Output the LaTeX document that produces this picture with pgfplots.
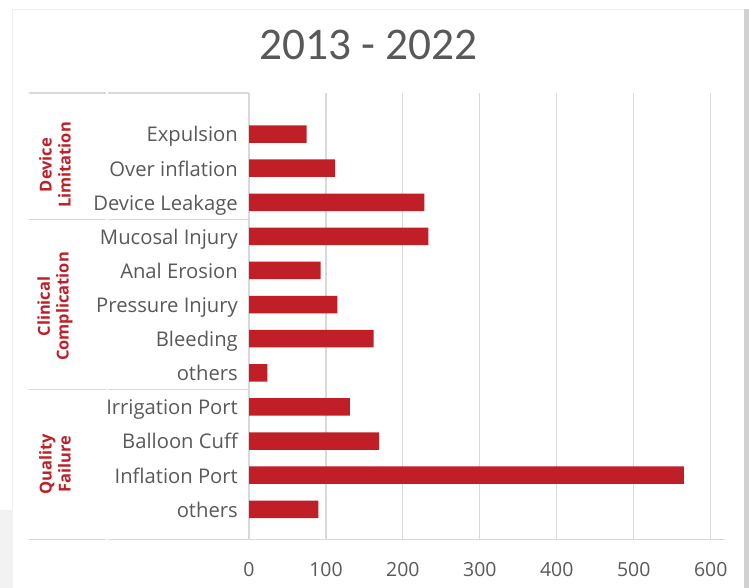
\documentclass[border=0pt]{standalone}
\usepackage{pgfplots}
\pgfplotsset{compat=1.18}
\usepackage{fontspec}
\setmainfont{Open Sans}
\newfontfamily\titlefont{Carlito}
\definecolor{barred}{RGB}{192,31,39}
\definecolor{txt}{RGB}{89,89,89}
\definecolor{gridc}{RGB}{217,217,217}
\pgfplotstableread{
y val
0 90
1 565
2 169
3 131
4 24
5 162
6 115
7 93
8 233
9 228
10 112
11 75
}\datatable
\begin{document}
\begin{tikzpicture}
\path[use as bounding box] (0,0) rectangle (749bp,-588bp);
\fill[white] (0,0) rectangle (749bp,-588bp);
\fill[black!5] (0,-510bp) rectangle (12bp,-588bp);
\fill[black!18] (744bp,-9bp) rectangle (749bp,-588bp);
\draw[black!6, line width=1bp] (12bp,-588bp) -- (12bp,-9bp) -- (744bp,-9bp);
\begin{axis}[
  at={(249bp,-539.3bp)}, anchor=south west,
  scale only axis, width=476bp, height=446.3bp,
  xmin=0, xmax=618.6, ymin=-0.88, ymax=12.203,
  xbar, bar width=17.5bp,
  axis x line*=bottom, axis y line*=left,
  axis line style={gridc, line width=1.1bp, -},
  xmajorgrids, grid style={gridc, line width=1.1bp},
  major tick length=0pt,
  xtick={0,100,...,600},
  ytick={0,...,11},
  yticklabels={others,Inflation Port,Balloon Cuff,Irrigation Port,others,Bleeding,Pressure Injury,Anal Erosion,Mucosal Injury,Device Leakage,Over inflation,Expulsion},
  /pgf/number format/assume math mode=true,
  x tick label style={font=\fontsize{19.5}{19.5}\selectfont, text=txt, anchor=base, inner sep=0pt, yshift=-37.5bp},
  y tick label style={font=\fontsize{20.3}{20.3}\selectfont, text=txt, anchor=base east, inner sep=0pt, xshift=-11bp, yshift=-7.9bp},
  clip=false,
]
\addplot[fill=barred, draw=none] table[x=val, y=y] {\datatable};
\end{axis}
% table lines
\foreach \yy in {93,219.3,389.5,539.3} {
  \draw[gridc, line width=1.1bp] (29bp,-\yy bp) -- (106bp,-\yy bp);
  \draw[gridc, line width=1.1bp] (108bp,-\yy bp) -- (249bp,-\yy bp);
}
\node[anchor=base, text=txt, font=\titlefont\fontsize{45.5}{45.5}\selectfont] at (368.5bp,-59bp) {2013 - 2022};
\node[rotate=90, align=center, text=barred, font=\fontsize{16.5}{19}\selectfont\bfseries] at (55bp,-165bp) {Device\\Limitation};
\node[rotate=90, align=center, text=barred, font=\fontsize{16.5}{19}\selectfont\bfseries] at (55bp,-306.5bp) {Clinical\\Complication};
\node[rotate=90, align=center, text=barred, font=\fontsize{16.5}{19}\selectfont\bfseries] at (55bp,-464bp) {Quality\\Failure};
\end{tikzpicture}
\end{document}
